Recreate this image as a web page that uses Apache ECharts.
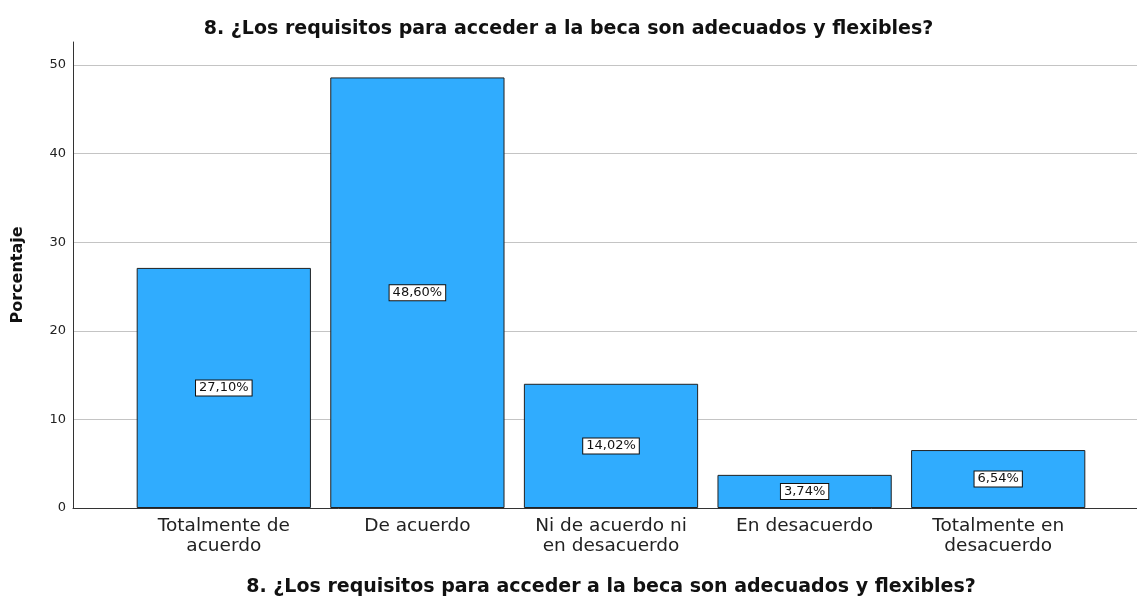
<!DOCTYPE html>
<html>
<head>
<meta charset="utf-8">
<script src="https://cdn.jsdelivr.net/npm/echarts@6/dist/echarts.min.js"></script>
<style>
  html, body { margin: 0; padding: 0; background: #fff; }
  #chart { width: 1137px; height: 596px; }
</style>
</head>
<body>
<div id="chart"></div>
<script>
// datos de la pregunta 8
const categorias = ['Totalmente de\nacuerdo', 'De acuerdo', 'Ni de acuerdo ni\nen desacuerdo', 'En desacuerdo', 'Totalmente en\ndesacuerdo'];
const porcentajes = [27.10, 48.60, 14.02, 3.74, 6.54];
const ticksY = [0, 10, 20, 30, 40, 50];

const titulo = '8. ¿Los requisitos para acceder a la beca son adecuados y flexibles?';
const fuente = '"DejaVu Sans", Verdana, sans-serif';
const ejeMax = 52.6;

const myChart = echarts.init(document.getElementById('chart'));

// las lineas de cuadricula solo en los ticks, no en el tope del eje
const coloresRejilla = ticksY.map(() => '#c4c4c4').concat(['rgba(0,0,0,0)']);

myChart.setOption({
  animation: false,
  title: {
    text: titulo,
    left: 'center',
    top: 15,
    textStyle: { fontFamily: fuente, fontSize: 19, fontWeight: 'bold', color: '#111' }
  },
  // grid 0: eje y y lineas de cuadricula, grid 1: las barras
  grid: [
    { left: 73, right: 0, top: 42, bottom: 88, outerBoundsMode: 'none' },
    { left: 127, right: 42, top: 42, bottom: 88, outerBoundsMode: 'none' }
  ],
  xAxis: [
    {
      gridIndex: 0, type: 'value', min: 0, max: 1,
      axisLine: { show: true, lineStyle: { color: '#333', width: 1 } },
      axisTick: { show: false }, axisLabel: { show: false }, splitLine: { show: false }
    },
    {
      gridIndex: 1, type: 'category', data: categorias,
      axisLine: { show: false }, axisTick: { show: false },
      axisLabel: {
        fontFamily: fuente, fontSize: 18.5, color: '#222', lineHeight: 20, margin: 8, interval: 0
      },
      name: titulo, nameLocation: 'middle', nameGap: 70,
      nameTextStyle: { fontFamily: fuente, fontSize: 19, fontWeight: 'bold', color: '#111' }
    }
  ],
  yAxis: [
    {
      gridIndex: 0, type: 'value', min: 0, max: ejeMax, interval: 10,
      axisLine: { show: true, lineStyle: { color: '#333', width: 1 } },
      axisTick: { show: false },
      axisLabel: {
        fontFamily: fuente, fontSize: 13, color: '#222', margin: 7,
        formatter: v => ticksY.includes(v) ? String(v) : ''
      },
      splitLine: { show: true, lineStyle: { color: coloresRejilla, width: 1 } },
      name: 'Porcentaje', nameLocation: 'middle', nameGap: 47, nameRotate: 90,
      nameTextStyle: { fontFamily: fuente, fontSize: 16, fontWeight: 'bold', color: '#111' }
    },
    {
      gridIndex: 1, type: 'value', min: 0, max: ejeMax,
      show: false
    }
  ],
  series: [
    {
      type: 'bar',
      xAxisIndex: 1, yAxisIndex: 1,
      data: porcentajes,
      barCategoryGap: '10%',
      itemStyle: { color: '#30acfe', borderColor: '#222', borderWidth: 1 },
      label: {
        show: true, position: 'inside',
        formatter: p => p.value.toFixed(2).replace('.', ',') + '%',
        fontFamily: fuente, fontSize: 13, color: '#111',
        backgroundColor: '#fff', borderColor: '#111', borderWidth: 1,
        padding: [1, 3, 1, 3]
      }
    }
  ]
});
</script>
</body>
</html>
